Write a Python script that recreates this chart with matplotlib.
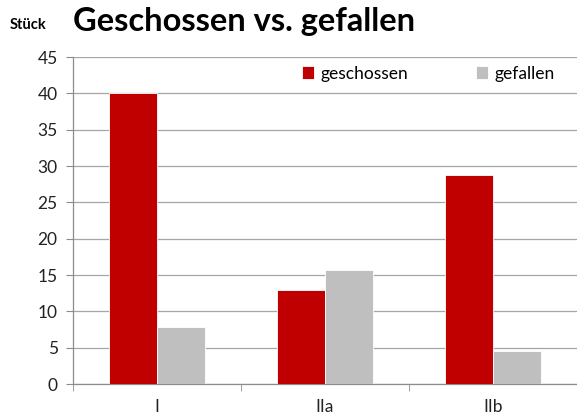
import numpy as np
import matplotlib.pyplot as plt

categories = ["I", "IIa", "IIb"]
geschossen = [40, 13, 28.8]
gefallen = [7.8, 15.7, 4.6]

plt.rcParams['font.family'] = ['Lato', 'DejaVu Sans']

fig = plt.figure(figsize=(5.77, 4.17), dpi=100)
ax = fig.add_axes([0.1265, 0.079, 0.8735, 0.784])

x = np.arange(len(categories))
w = 1 / 3.5
ax.bar(x - w / 2, geschossen, w, color="#C00000", edgecolor="white", linewidth=0.6,
       label="geschossen", zorder=3)
ax.bar(x + w / 2, gefallen, w, color="#BFBFBF", edgecolor="white", linewidth=0.6,
       label="gefallen", zorder=3)

ax.set_ylim(0, 45)
ax.set_yticks(range(0, 46, 5))
ax.set_xlim(-0.5, -0.5 + 504 / 170)
ax.set_xticks(x)
ax.set_xticklabels(categories)
ax.set_xticks([-0.5, 0.5, 1.5, 2.5], minor=True)

ax.grid(axis="y", color="#A6A6A6", linewidth=0.9, zorder=0)
for s in ["top", "right"]:
    ax.spines[s].set_visible(False)
for s in ["left", "bottom"]:
    ax.spines[s].set_color("#8C8C8C")
    ax.spines[s].set_linewidth(0.9)

ax.tick_params(axis="y", length=5, color="#8C8C8C", labelsize=12.5, labelcolor="#222222", pad=6)
ax.tick_params(axis="x", which="major", length=0, labelsize=12.5, labelcolor="#222222", pad=11)
ax.tick_params(axis="x", which="minor", length=5, color="#8C8C8C")

leg = ax.legend(loc="upper right", bbox_to_anchor=(0.962, 0.985), ncol=2, frameon=False,
                fontsize=12.5, handlelength=0.7, handleheight=0.7, handletextpad=0.35,
                columnspacing=3.9, borderaxespad=0, borderpad=0.2)

fig.text(0.127, 0.925, "Geschossen vs. gefallen", fontsize=23.5, fontweight="bold",
         va="baseline", ha="left")
fig.text(0.017, 0.93, "Stück", fontsize=10.5, fontweight="bold", va="baseline", ha="left")

fig.savefig("out.png", dpi=100)
